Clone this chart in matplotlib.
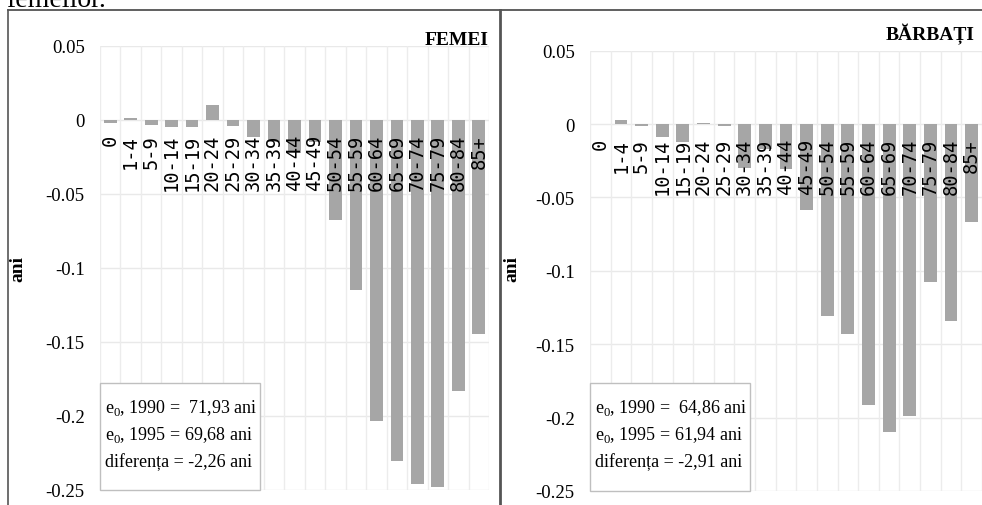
import matplotlib
matplotlib.use("Agg")
import matplotlib.pyplot as plt
from matplotlib.lines import Line2D
from matplotlib.ticker import FixedLocator, FuncFormatter

# grupe de varsta si contributii (ani)
grupe = ["0", "1-4", "5-9", "10-14", "15-19", "20-24", "25-29", "30-34", "35-39",
         "40-44", "45-49", "50-54", "55-59", "60-64", "65-69", "70-74", "75-79",
         "80-84", "85+"]
femei = [-0.0018, 0.0016, -0.0034, -0.0047, -0.0049, 0.0103, -0.0039, -0.0112,
         -0.0152, -0.0220, -0.0152, -0.0676, -0.1150, -0.2031, -0.2304, -0.2459,
         -0.2482, -0.1834, -0.1448]
barbati = [0.0, 0.0027, -0.0010, -0.0089, -0.0123, 0.0007, -0.0016, -0.0298,
           -0.0168, -0.0308, -0.0584, -0.1308, -0.1430, -0.1917, -0.2098, -0.1987,
           -0.1076, -0.1345, -0.0668]
text_femei = ["71,93", "69,68", "-2,26"]
text_barbati = ["64,86", "61,94", "-2,91"]
y_ticks = [0.05, 0, -0.05, -0.1, -0.15, -0.2, -0.25]

plt.rcParams["axes.unicode_minus"] = False
plt.rcParams["mathtext.fontset"] = "custom"
plt.rcParams["mathtext.rm"] = "Liberation Serif"

W, H = 982, 506
fig = plt.figure(figsize=(W / 100, H / 100), dpi=100)


def px(x0, y0, x1, y1):
    # pixel box (de sus) -> fractii figura
    return [x0 / W, 1 - y1 / H, (x1 - x0) / W, (y1 - y0) / H]


def panel(rect, valori, titlu, vals, title_xy, ani_x, box_top):
    ax = fig.add_axes(px(*rect))
    x = list(range(len(grupe)))
    ax.bar(x, valori, width=0.62, color="#a6a6a6", zorder=2)
    ax.set_xlim(-0.5, len(grupe) - 0.5)
    ax.set_ylim(-0.25, 0.05)
    # grila desenata separat, ca etichetele axei x sa ramana peste bare
    for v in y_ticks:
        ax.axhline(v, color="#e9e9e9", lw=1, zorder=0)
    for i in range(len(grupe) + 1):
        ax.axvline(i - 0.5, color="#ececec", lw=1, zorder=0)
    # axa x la zero (inainte de etichete, altfel se reseteaza)
    for s in ax.spines.values():
        s.set_visible(False)
    ax.spines["bottom"].set_position(("data", 0))
    ax.yaxis.set_major_locator(FixedLocator(y_ticks))
    ax.yaxis.set_major_formatter(FuncFormatter(lambda v, p: "%g" % round(v, 3)))
    ax.set_xticks(x)
    ax.set_xticklabels(grupe, rotation=90, family="DejaVu Sans Mono", fontsize=13.5)
    ax.tick_params(axis="x", length=0, pad=10)
    ax.tick_params(axis="y", length=0, pad=11)
    for t in ax.get_yticklabels():
        t.set_family("Liberation Serif")
        t.set_fontsize(13.5)
    ax.set_axisbelow(False)

    fig.text(title_xy[0] / W, 1 - title_xy[1] / H, titlu, ha="right", va="baseline",
             family="Liberation Serif", fontweight="bold", fontsize=14)
    fig.text(ani_x / W, 1 - 269 / H, "ani", rotation=90, ha="center", va="center",
             family="Liberation Serif", fontweight="bold", fontsize=14)

    linii = [r"e$_\mathrm{0}$, 1990 =  %s ani" % vals[0],
             r"e$_\mathrm{0}$, 1995 = %s ani" % vals[1],
             "diferența = %s ani" % vals[2]]
    bx0, by0 = rect[0], box_top
    bx1, by1 = rect[0] + 160, rect[3]
    fig.patches.append(plt.Rectangle((bx0 / W, 1 - by1 / H), (bx1 - bx0) / W,
                                     (by1 - by0) / H, transform=fig.transFigure,
                                     facecolor="white", edgecolor="#bfbfbf", lw=1,
                                     zorder=5))
    for i, s in enumerate(linii):
        fig.text((bx0 + 5) / W, 1 - (by0 + 24 + 27 * i) / H, s, ha="left",
                 va="center", family="Liberation Serif", fontsize=13, zorder=6)
    return ax


panel((100, 47, 489, 491), femei, "FEMEI", text_femei, (489, 45), 18, 384)
panel((590, 51.7, 982, 492), barbati, "BĂRBAȚI", text_barbati, (975, 40), 512, 384)

# cadrul din document
fig.add_artist(Line2D([8 / W, 1], [1 - 11 / H] * 2, color="#444444", lw=1.2))
fig.add_artist(Line2D([8 / W] * 2, [0, 1 - 11 / H], color="#555555", lw=1.2))
fig.add_artist(Line2D([500 / W] * 2, [0, 1 - 11 / H], color="#555555", lw=2))
fig.text(6 / W, 1 - 7 / H, "femeilor.", ha="left", va="baseline",
         family="Liberation Serif", fontsize=20)

fig.savefig("out.png", dpi=100)
